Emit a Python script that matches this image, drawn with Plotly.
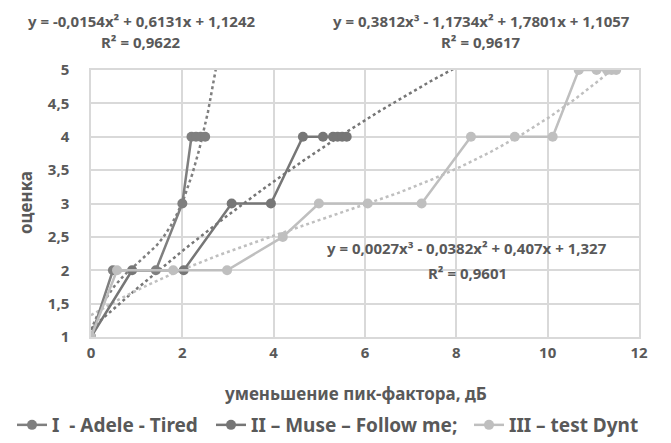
import numpy as np
import plotly.graph_objects as go

# Data
adele_x = [0, 0.48, 1.42, 2.0, 2.2, 2.3, 2.4, 2.5]
adele_y = [1, 2, 2, 3, 4, 4, 4, 4]
muse_x = [0, 0.9, 2.03, 3.08, 3.94, 4.64, 5.08, 5.3, 5.4, 5.5, 5.6]
muse_y = [1, 2, 2, 3, 3, 4, 4, 4, 4, 4, 4]
dynt_x = [0, 0.57, 1.8, 2.98, 4.2, 4.99, 6.06, 7.24, 8.32, 9.28, 10.11, 10.68, 11.07, 11.3, 11.4, 11.5]
dynt_y = [1, 2, 2, 2, 2.5, 3, 3, 3, 4, 4, 4, 5, 5, 5, 5, 5]

# Trendline coefficients (highest power first), as printed on the chart
adele_coef = [0.3812, -1.1734, 1.7801, 1.1057]
muse_coef = [-0.0154, 0.6131, 1.1242]
dynt_coef = [0.0027, -0.0382, 0.407, 1.327]
trend_xmax = [3.0, 8.5, 11.5]

names = ["I\u00a0 - Adele - Tired", "II – Muse – Follow me;", "III – test Dynt"]
colors = ["#7f7f7f", "#767676", "#bfbfbf"]

FONT = "Noto Sans"
TXT = "#595959"

W, H = 671, 443
# page has ~8px body margin; compensate
OFF = 8
L, R, T, B = 91 - OFF, W - (639 - OFF), 70 - OFF, H - (337 - OFF)

def px(xr):
    return (xr - 91) / 548.0

def py(yr):
    return (337 - yr) / 267.0

fig = go.Figure()

series = [(adele_x, adele_y, adele_coef), (muse_x, muse_y, muse_coef), (dynt_x, dynt_y, dynt_coef)]
for (xs, ys, coef), xm, col in zip(series, trend_xmax, colors):
    xt = np.linspace(0, xm, 500)
    yt = np.polyval(coef, xt)
    fig.add_trace(go.Scatter(x=xt, y=yt, mode="lines",
                             line=dict(color=col, width=2.5, dash="dot"),
                             showlegend=False, hoverinfo="skip"))

legend_ids = ["legend", "legend2", "legend3"]
for (xs, ys, coef), name, col, lg in zip(series, names, colors, legend_ids):
    fig.add_trace(go.Scatter(x=xs, y=ys, mode="lines+markers", name=name, legend=lg,
                             line=dict(color=col, width=2.5),
                             marker=dict(color=col, size=10)))

ann_font = dict(family=FONT, size=15, color=TXT, weight="bold")
annots = [
    (141, 9, "top", "y = -0,0154x² + 0,6131x + 1,1242"),
    (141, 42, "middle", "R² = 0,9622"),
    (481, 9, "top", "y = 0,3812x³ - 1,1734x² + 1,7801x + 1,1057"),
    (481, 42, "middle", "R² = 0,9617"),
    (467, 248, "middle", "y = 0,0027x³ - 0,0382x² + 0,407x + 1,327"),
    (467, 273, "middle", "R² = 0,9601"),
]
for xr, yr, ya, t in annots:
    fig.add_annotation(x=px(xr), y=py(yr), xref="paper", yref="paper",
                       text=t, showarrow=False, font=ann_font, xanchor="center", yanchor=ya)

# axis titles
fig.add_annotation(x=px(355), y=py(393), xref="paper", yref="paper", text="уменьшение пик-фактора, дБ",
                   showarrow=False, font=dict(family=FONT, size=17, color=TXT, weight="bold"),
                   xanchor="center", yanchor="middle")
fig.add_annotation(x=px(25), y=py(203), xref="paper", yref="paper", text="оценка", textangle=-90,
                   showarrow=False, font=dict(family=FONT, size=17, color=TXT, weight="bold"),
                   xanchor="center", yanchor="middle")

leg_common = dict(orientation="h", xanchor="left", yanchor="middle", y=py(425),
                  font=dict(family=FONT, size=19, color=TXT, weight="bold"),
                  bgcolor="rgba(0,0,0,0)")

fig.update_layout(
    width=W, height=H,
    margin=dict(l=L, r=R, t=T, b=B, autoexpand=False),
    paper_bgcolor="white", plot_bgcolor="white",
    separators=", ",
    font=dict(family=FONT, size=15, color=TXT, weight="bold"),
    xaxis=dict(range=[0, 12], dtick=2, showgrid=True, gridcolor="#d9d9d9", gridwidth=1.5,
               zeroline=False, showline=True, linecolor="#d9d9d9", linewidth=1.5,
               ticks="", tickfont=dict(size=15, color=TXT), ticklabelstandoff=1,
               automargin=False, mirror=True),
    yaxis=dict(range=[1, 5], dtick=0.5, showgrid=True, gridcolor="#d9d9d9", gridwidth=1.5,
               zeroline=False, showline=True, linecolor="#d9d9d9", linewidth=1.5,
               ticks="", tickfont=dict(size=15, color=TXT), tickformat=",.1~f",
               ticklabelstandoff=17, automargin=False, mirror=True),
    legend=dict(x=px(12), **leg_common),
    legend2=dict(x=px(211), **leg_common),
    legend3=dict(x=px(469), **leg_common),
)

fig.write_html("out.html")
